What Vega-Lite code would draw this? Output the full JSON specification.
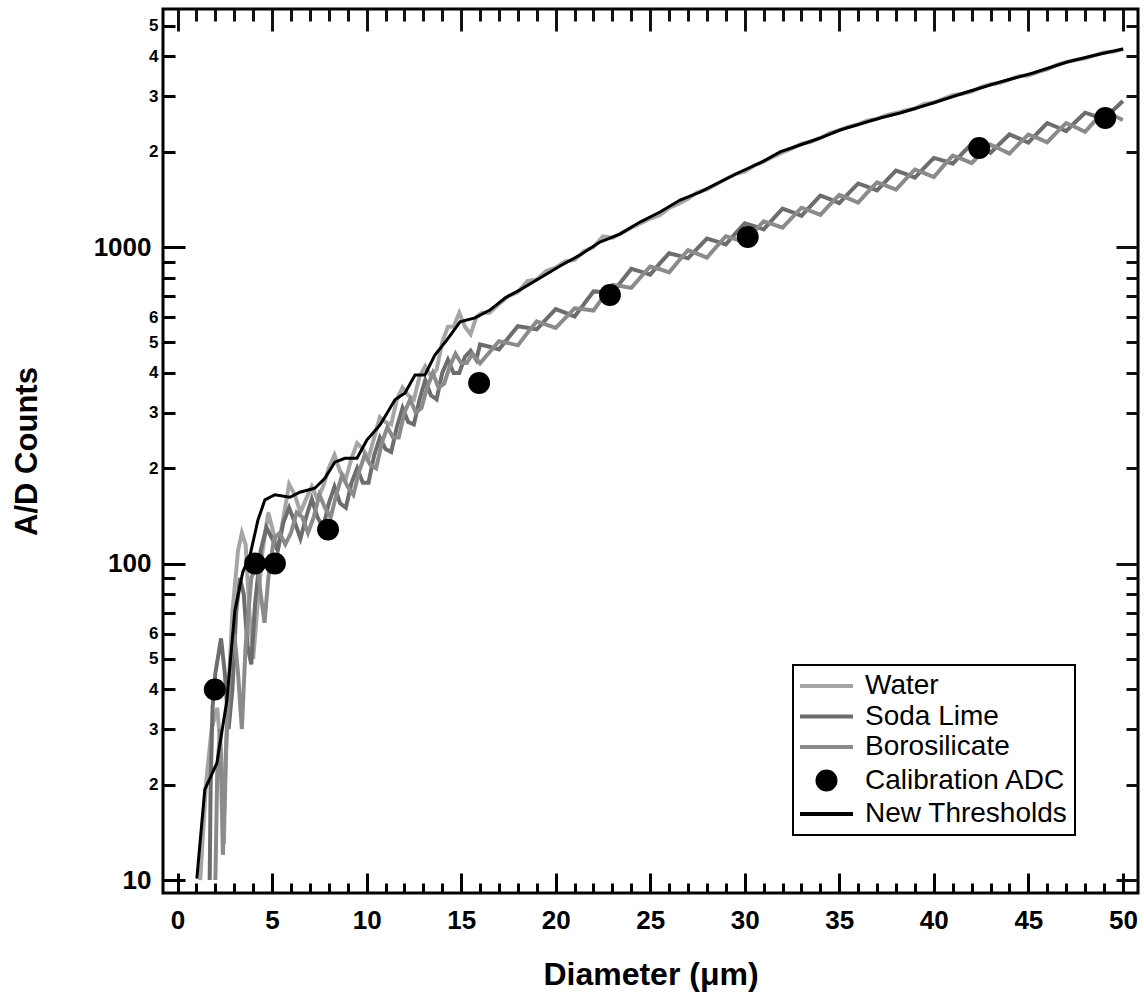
{
  "$schema": "https://vega.github.io/schema/vega-lite/v6.json",
  "width": 975,
  "height": 884,
  "autosize": "none",
  "padding": {"left": 163, "top": 9, "right": 6, "bottom": 110},
  "background": "white",
  "config": {
    "view": {"stroke": "black", "strokeWidth": 3},
    "font": "Liberation Sans"
  },
  "datasets": {
    "curves": [
      {"series": "Water", "d": 1.2, "v": 10}, {"series": "Water", "d": 1.5, "v": 20}, {"series": "Water", "d": 1.8, "v": 30}, {"series": "Water", "d": 2.1, "v": 35}, {"series": "Water", "d": 2.3, "v": 25}, {"series": "Water", "d": 2.45, "v": 13}, {"series": "Water", "d": 2.6, "v": 30}, {"series": "Water", "d": 2.9, "v": 70}, {"series": "Water", "d": 3.2, "v": 110}, {"series": "Water", "d": 3.4, "v": 125}, {"series": "Water", "d": 3.6, "v": 115}, {"series": "Water", "d": 3.8, "v": 70}, {"series": "Water", "d": 4.0, "v": 50}, {"series": "Water", "d": 4.2, "v": 70}, {"series": "Water", "d": 4.5, "v": 110}, {"series": "Water", "d": 4.8, "v": 145}, {"series": "Water", "d": 5.0, "v": 130}, {"series": "Water", "d": 5.3, "v": 110}, {"series": "Water", "d": 5.6, "v": 140}, {"series": "Water", "d": 5.9, "v": 178}, {"series": "Water", "d": 6.2, "v": 165}, {"series": "Water", "d": 6.5, "v": 145}, {"series": "Water", "d": 6.8, "v": 160}, {"series": "Water", "d": 7.1, "v": 175}, {"series": "Water", "d": 7.4, "v": 160}, {"series": "Water", "d": 7.7, "v": 175}, {"series": "Water", "d": 8.0, "v": 200}, {"series": "Water", "d": 8.3, "v": 220}, {"series": "Water", "d": 8.6, "v": 195}, {"series": "Water", "d": 8.9, "v": 185}, {"series": "Water", "d": 9.2, "v": 215}, {"series": "Water", "d": 9.5, "v": 240}, {"series": "Water", "d": 9.8, "v": 230}, {"series": "Water", "d": 10.1, "v": 215}, {"series": "Water", "d": 10.4, "v": 250}, {"series": "Water", "d": 10.7, "v": 290}, {"series": "Water", "d": 11.0, "v": 280}, {"series": "Water", "d": 11.3, "v": 275}, {"series": "Water", "d": 11.6, "v": 330}, {"series": "Water", "d": 11.9, "v": 360}, {"series": "Water", "d": 12.2, "v": 340}, {"series": "Water", "d": 12.5, "v": 330}, {"series": "Water", "d": 12.8, "v": 390}, {"series": "Water", "d": 13.1, "v": 420}, {"series": "Water", "d": 13.4, "v": 390}, {"series": "Water", "d": 13.7, "v": 410}, {"series": "Water", "d": 14.0, "v": 500}, {"series": "Water", "d": 14.3, "v": 560}, {"series": "Water", "d": 14.6, "v": 560}, {"series": "Water", "d": 14.9, "v": 620}, {"series": "Water", "d": 15.2, "v": 560}, {"series": "Water", "d": 15.5, "v": 530}, {"series": "Water", "d": 15.8, "v": 600}, {"series": "Water", "d": 16.1, "v": 620}, {"series": "Water", "d": 16.5, "v": 620}, {"series": "Water", "d": 17, "v": 660}, {"series": "Water", "d": 17.5, "v": 700}, {"series": "Water", "d": 18, "v": 720}, {"series": "Water", "d": 18.5, "v": 780}, {"series": "Water", "d": 19, "v": 790}, {"series": "Water", "d": 19.5, "v": 840}, {"series": "Water", "d": 20, "v": 860}, {"series": "Water", "d": 20.5, "v": 900}, {"series": "Water", "d": 21, "v": 910}, {"series": "Water", "d": 21.5, "v": 970}, {"series": "Water", "d": 22, "v": 1000}, {"series": "Water", "d": 22.5, "v": 1080}, {"series": "Water", "d": 23, "v": 1070}, {"series": "Water", "d": 23.5, "v": 1110}, {"series": "Water", "d": 24, "v": 1150}, {"series": "Water", "d": 24.5, "v": 1190}, {"series": "Water", "d": 25, "v": 1230}, {"series": "Water", "d": 25.5, "v": 1260}, {"series": "Water", "d": 26, "v": 1330}, {"series": "Water", "d": 26.5, "v": 1370}, {"series": "Water", "d": 27, "v": 1420}, {"series": "Water", "d": 27.5, "v": 1490}, {"series": "Water", "d": 28, "v": 1520}, {"series": "Water", "d": 28.5, "v": 1580}, {"series": "Water", "d": 29, "v": 1640}, {"series": "Water", "d": 29.5, "v": 1700}, {"series": "Water", "d": 30, "v": 1730}, {"series": "Water", "d": 30.5, "v": 1810}, {"series": "Water", "d": 31, "v": 1860}, {"series": "Water", "d": 31.5, "v": 1930}, {"series": "Water", "d": 32, "v": 1990}, {"series": "Water", "d": 32.5, "v": 2050}, {"series": "Water", "d": 33, "v": 2120}, {"series": "Water", "d": 33.5, "v": 2150}, {"series": "Water", "d": 34, "v": 2210}, {"series": "Water", "d": 34.5, "v": 2290}, {"series": "Water", "d": 35, "v": 2340}, {"series": "Water", "d": 35.5, "v": 2400}, {"series": "Water", "d": 36, "v": 2440}, {"series": "Water", "d": 36.5, "v": 2510}, {"series": "Water", "d": 37, "v": 2540}, {"series": "Water", "d": 37.5, "v": 2610}, {"series": "Water", "d": 38, "v": 2650}, {"series": "Water", "d": 38.5, "v": 2700}, {"series": "Water", "d": 39, "v": 2740}, {"series": "Water", "d": 39.5, "v": 2830}, {"series": "Water", "d": 40, "v": 2860}, {"series": "Water", "d": 40.5, "v": 2940}, {"series": "Water", "d": 41, "v": 3020}, {"series": "Water", "d": 41.5, "v": 3050}, {"series": "Water", "d": 42, "v": 3100}, {"series": "Water", "d": 42.5, "v": 3200}, {"series": "Water", "d": 43, "v": 3270}, {"series": "Water", "d": 43.5, "v": 3300}, {"series": "Water", "d": 44, "v": 3380}, {"series": "Water", "d": 44.5, "v": 3470}, {"series": "Water", "d": 45, "v": 3480}, {"series": "Water", "d": 45.5, "v": 3570}, {"series": "Water", "d": 46, "v": 3640}, {"series": "Water", "d": 46.5, "v": 3760}, {"series": "Water", "d": 47, "v": 3840}, {"series": "Water", "d": 47.5, "v": 3900}, {"series": "Water", "d": 48, "v": 3950}, {"series": "Water", "d": 48.5, "v": 4030}, {"series": "Water", "d": 49, "v": 4120}, {"series": "Water", "d": 49.5, "v": 4150}, {"series": "Water", "d": 50, "v": 4220},

      {"series": "Soda Lime", "d": 1.7, "v": 10}, {"series": "Soda Lime", "d": 1.75, "v": 20}, {"series": "Soda Lime", "d": 1.85, "v": 35}, {"series": "Soda Lime", "d": 2.0, "v": 45}, {"series": "Soda Lime", "d": 2.3, "v": 58}, {"series": "Soda Lime", "d": 2.5, "v": 45}, {"series": "Soda Lime", "d": 2.7, "v": 30}, {"series": "Soda Lime", "d": 2.9, "v": 40}, {"series": "Soda Lime", "d": 3.1, "v": 70}, {"series": "Soda Lime", "d": 3.3, "v": 90}, {"series": "Soda Lime", "d": 3.5, "v": 80}, {"series": "Soda Lime", "d": 3.7, "v": 55}, {"series": "Soda Lime", "d": 3.9, "v": 48}, {"series": "Soda Lime", "d": 4.1, "v": 75}, {"series": "Soda Lime", "d": 4.4, "v": 110}, {"series": "Soda Lime", "d": 4.7, "v": 130}, {"series": "Soda Lime", "d": 5.0, "v": 120}, {"series": "Soda Lime", "d": 5.3, "v": 110}, {"series": "Soda Lime", "d": 5.6, "v": 135}, {"series": "Soda Lime", "d": 5.9, "v": 150}, {"series": "Soda Lime", "d": 6.2, "v": 135}, {"series": "Soda Lime", "d": 6.5, "v": 120}, {"series": "Soda Lime", "d": 6.8, "v": 140}, {"series": "Soda Lime", "d": 7.1, "v": 160}, {"series": "Soda Lime", "d": 7.4, "v": 140}, {"series": "Soda Lime", "d": 7.7, "v": 130}, {"series": "Soda Lime", "d": 8.0, "v": 155}, {"series": "Soda Lime", "d": 8.3, "v": 175}, {"series": "Soda Lime", "d": 8.6, "v": 155}, {"series": "Soda Lime", "d": 8.9, "v": 150}, {"series": "Soda Lime", "d": 9.2, "v": 180}, {"series": "Soda Lime", "d": 9.5, "v": 200}, {"series": "Soda Lime", "d": 9.8, "v": 180}, {"series": "Soda Lime", "d": 10.1, "v": 180}, {"series": "Soda Lime", "d": 10.4, "v": 220}, {"series": "Soda Lime", "d": 10.7, "v": 250}, {"series": "Soda Lime", "d": 11.0, "v": 230}, {"series": "Soda Lime", "d": 11.3, "v": 225}, {"series": "Soda Lime", "d": 11.6, "v": 270}, {"series": "Soda Lime", "d": 11.9, "v": 310}, {"series": "Soda Lime", "d": 12.2, "v": 280}, {"series": "Soda Lime", "d": 12.5, "v": 275}, {"series": "Soda Lime", "d": 12.8, "v": 330}, {"series": "Soda Lime", "d": 13.1, "v": 380}, {"series": "Soda Lime", "d": 13.4, "v": 340}, {"series": "Soda Lime", "d": 13.7, "v": 330}, {"series": "Soda Lime", "d": 14.0, "v": 400}, {"series": "Soda Lime", "d": 14.3, "v": 440}, {"series": "Soda Lime", "d": 14.6, "v": 400}, {"series": "Soda Lime", "d": 14.9, "v": 400}, {"series": "Soda Lime", "d": 15.2, "v": 450}, {"series": "Soda Lime", "d": 15.5, "v": 470}, {"series": "Soda Lime", "d": 15.8, "v": 440}, {"series": "Soda Lime", "d": 16, "v": 492}, {"series": "Soda Lime", "d": 16.5, "v": 484}, {"series": "Soda Lime", "d": 17, "v": 475}, {"series": "Soda Lime", "d": 17.5, "v": 517}, {"series": "Soda Lime", "d": 18, "v": 562}, {"series": "Soda Lime", "d": 18.5, "v": 556}, {"series": "Soda Lime", "d": 19, "v": 549}, {"series": "Soda Lime", "d": 19.5, "v": 592}, {"series": "Soda Lime", "d": 20, "v": 637}, {"series": "Soda Lime", "d": 20.5, "v": 620}, {"series": "Soda Lime", "d": 21, "v": 603}, {"series": "Soda Lime", "d": 21.5, "v": 661}, {"series": "Soda Lime", "d": 22, "v": 724}, {"series": "Soda Lime", "d": 22.5, "v": 721}, {"series": "Soda Lime", "d": 23, "v": 715}, {"series": "Soda Lime", "d": 23.5, "v": 783}, {"series": "Soda Lime", "d": 24, "v": 853}, {"series": "Soda Lime", "d": 24.5, "v": 836}, {"series": "Soda Lime", "d": 25, "v": 818}, {"series": "Soda Lime", "d": 25.5, "v": 886}, {"series": "Soda Lime", "d": 26, "v": 956}, {"series": "Soda Lime", "d": 26.5, "v": 939}, {"series": "Soda Lime", "d": 27, "v": 921}, {"series": "Soda Lime", "d": 27.5, "v": 991}, {"series": "Soda Lime", "d": 28, "v": 1064}, {"series": "Soda Lime", "d": 28.5, "v": 1042}, {"series": "Soda Lime", "d": 29, "v": 1019}, {"series": "Soda Lime", "d": 29.5, "v": 1102}, {"series": "Soda Lime", "d": 30, "v": 1188}, {"series": "Soda Lime", "d": 30.5, "v": 1164}, {"series": "Soda Lime", "d": 31, "v": 1137}, {"series": "Soda Lime", "d": 31.5, "v": 1228}, {"series": "Soda Lime", "d": 32, "v": 1323}, {"series": "Soda Lime", "d": 32.5, "v": 1290}, {"series": "Soda Lime", "d": 33, "v": 1254}, {"series": "Soda Lime", "d": 33.5, "v": 1351}, {"series": "Soda Lime", "d": 34, "v": 1453}, {"series": "Soda Lime", "d": 34.5, "v": 1416}, {"series": "Soda Lime", "d": 35, "v": 1377}, {"series": "Soda Lime", "d": 35.5, "v": 1480}, {"series": "Soda Lime", "d": 36, "v": 1588}, {"series": "Soda Lime", "d": 36.5, "v": 1550}, {"series": "Soda Lime", "d": 37, "v": 1509}, {"series": "Soda Lime", "d": 37.5, "v": 1624}, {"series": "Soda Lime", "d": 38, "v": 1744}, {"series": "Soda Lime", "d": 38.5, "v": 1702}, {"series": "Soda Lime", "d": 39, "v": 1656}, {"series": "Soda Lime", "d": 39.5, "v": 1782}, {"series": "Soda Lime", "d": 40, "v": 1912}, {"series": "Soda Lime", "d": 40.5, "v": 1875}, {"series": "Soda Lime", "d": 41, "v": 1833}, {"series": "Soda Lime", "d": 41.5, "v": 1972}, {"series": "Soda Lime", "d": 42, "v": 2117}, {"series": "Soda Lime", "d": 42.5, "v": 2052}, {"series": "Soda Lime", "d": 43, "v": 1985}, {"series": "Soda Lime", "d": 43.5, "v": 2124}, {"series": "Soda Lime", "d": 44, "v": 2268}, {"series": "Soda Lime", "d": 44.5, "v": 2204}, {"series": "Soda Lime", "d": 45, "v": 2136}, {"series": "Soda Lime", "d": 45.5, "v": 2297}, {"series": "Soda Lime", "d": 46, "v": 2462}, {"series": "Soda Lime", "d": 46.5, "v": 2395}, {"series": "Soda Lime", "d": 47, "v": 2323}, {"series": "Soda Lime", "d": 47.5, "v": 2487}, {"series": "Soda Lime", "d": 48, "v": 2657}, {"series": "Soda Lime", "d": 48.5, "v": 2596}, {"series": "Soda Lime", "d": 49, "v": 2528}, {"series": "Soda Lime", "d": 49.5, "v": 2709}, {"series": "Soda Lime", "d": 50, "v": 2894},

      {"series": "Borosilicate", "d": 2.0, "v": 10}, {"series": "Borosilicate", "d": 2.1, "v": 22}, {"series": "Borosilicate", "d": 2.25, "v": 30}, {"series": "Borosilicate", "d": 2.4, "v": 12}, {"series": "Borosilicate", "d": 2.55, "v": 25}, {"series": "Borosilicate", "d": 2.8, "v": 50}, {"series": "Borosilicate", "d": 3.0, "v": 60}, {"series": "Borosilicate", "d": 3.2, "v": 45}, {"series": "Borosilicate", "d": 3.4, "v": 30}, {"series": "Borosilicate", "d": 3.6, "v": 55}, {"series": "Borosilicate", "d": 3.9, "v": 90}, {"series": "Borosilicate", "d": 4.2, "v": 100}, {"series": "Borosilicate", "d": 4.4, "v": 80}, {"series": "Borosilicate", "d": 4.6, "v": 65}, {"series": "Borosilicate", "d": 4.8, "v": 90}, {"series": "Borosilicate", "d": 5.1, "v": 120}, {"series": "Borosilicate", "d": 5.4, "v": 125}, {"series": "Borosilicate", "d": 5.7, "v": 115}, {"series": "Borosilicate", "d": 6.0, "v": 125}, {"series": "Borosilicate", "d": 6.3, "v": 145}, {"series": "Borosilicate", "d": 6.6, "v": 140}, {"series": "Borosilicate", "d": 6.9, "v": 125}, {"series": "Borosilicate", "d": 7.2, "v": 140}, {"series": "Borosilicate", "d": 7.5, "v": 165}, {"series": "Borosilicate", "d": 7.8, "v": 150}, {"series": "Borosilicate", "d": 8.1, "v": 140}, {"series": "Borosilicate", "d": 8.4, "v": 165}, {"series": "Borosilicate", "d": 8.7, "v": 190}, {"series": "Borosilicate", "d": 9.0, "v": 175}, {"series": "Borosilicate", "d": 9.3, "v": 165}, {"series": "Borosilicate", "d": 9.6, "v": 195}, {"series": "Borosilicate", "d": 9.9, "v": 220}, {"series": "Borosilicate", "d": 10.2, "v": 205}, {"series": "Borosilicate", "d": 10.5, "v": 200}, {"series": "Borosilicate", "d": 10.8, "v": 240}, {"series": "Borosilicate", "d": 11.1, "v": 270}, {"series": "Borosilicate", "d": 11.4, "v": 250}, {"series": "Borosilicate", "d": 11.7, "v": 250}, {"series": "Borosilicate", "d": 12.0, "v": 300}, {"series": "Borosilicate", "d": 12.3, "v": 330}, {"series": "Borosilicate", "d": 12.6, "v": 300}, {"series": "Borosilicate", "d": 12.9, "v": 310}, {"series": "Borosilicate", "d": 13.2, "v": 360}, {"series": "Borosilicate", "d": 13.5, "v": 400}, {"series": "Borosilicate", "d": 13.8, "v": 360}, {"series": "Borosilicate", "d": 14.1, "v": 370}, {"series": "Borosilicate", "d": 14.4, "v": 420}, {"series": "Borosilicate", "d": 14.7, "v": 460}, {"series": "Borosilicate", "d": 15.0, "v": 430}, {"series": "Borosilicate", "d": 15.3, "v": 430}, {"series": "Borosilicate", "d": 15.6, "v": 460}, {"series": "Borosilicate", "d": 16, "v": 429}, {"series": "Borosilicate", "d": 16.5, "v": 465}, {"series": "Borosilicate", "d": 17, "v": 504}, {"series": "Borosilicate", "d": 17.5, "v": 497}, {"series": "Borosilicate", "d": 18, "v": 489}, {"series": "Borosilicate", "d": 18.5, "v": 535}, {"series": "Borosilicate", "d": 19, "v": 582}, {"series": "Borosilicate", "d": 19.5, "v": 569}, {"series": "Borosilicate", "d": 20, "v": 555}, {"series": "Borosilicate", "d": 20.5, "v": 596}, {"series": "Borosilicate", "d": 21, "v": 640}, {"series": "Borosilicate", "d": 21.5, "v": 636}, {"series": "Borosilicate", "d": 22, "v": 630}, {"series": "Borosilicate", "d": 22.5, "v": 693}, {"series": "Borosilicate", "d": 23, "v": 759}, {"series": "Borosilicate", "d": 23.5, "v": 752}, {"series": "Borosilicate", "d": 24, "v": 743}, {"series": "Borosilicate", "d": 24.5, "v": 804}, {"series": "Borosilicate", "d": 25, "v": 868}, {"series": "Borosilicate", "d": 25.5, "v": 851}, {"series": "Borosilicate", "d": 26, "v": 832}, {"series": "Borosilicate", "d": 26.5, "v": 903}, {"series": "Borosilicate", "d": 27, "v": 978}, {"series": "Borosilicate", "d": 27.5, "v": 952}, {"series": "Borosilicate", "d": 28, "v": 926}, {"series": "Borosilicate", "d": 28.5, "v": 1002}, {"series": "Borosilicate", "d": 29, "v": 1082}, {"series": "Borosilicate", "d": 29.5, "v": 1059}, {"series": "Borosilicate", "d": 30, "v": 1034}, {"series": "Borosilicate", "d": 30.5, "v": 1119}, {"series": "Borosilicate", "d": 31, "v": 1206}, {"series": "Borosilicate", "d": 31.5, "v": 1180}, {"series": "Borosilicate", "d": 32, "v": 1152}, {"series": "Borosilicate", "d": 32.5, "v": 1239}, {"series": "Borosilicate", "d": 33, "v": 1331}, {"series": "Borosilicate", "d": 33.5, "v": 1299}, {"series": "Borosilicate", "d": 34, "v": 1264}, {"series": "Borosilicate", "d": 34.5, "v": 1361}, {"series": "Borosilicate", "d": 35, "v": 1461}, {"series": "Borosilicate", "d": 35.5, "v": 1423}, {"series": "Borosilicate", "d": 36, "v": 1382}, {"series": "Borosilicate", "d": 36.5, "v": 1490}, {"series": "Borosilicate", "d": 37, "v": 1602}, {"series": "Borosilicate", "d": 37.5, "v": 1561}, {"series": "Borosilicate", "d": 38, "v": 1518}, {"series": "Borosilicate", "d": 38.5, "v": 1635}, {"series": "Borosilicate", "d": 39, "v": 1758}, {"series": "Borosilicate", "d": 39.5, "v": 1713}, {"series": "Borosilicate", "d": 40, "v": 1664}, {"series": "Borosilicate", "d": 40.5, "v": 1802}, {"series": "Borosilicate", "d": 41, "v": 1945}, {"series": "Borosilicate", "d": 41.5, "v": 1896}, {"series": "Borosilicate", "d": 42, "v": 1842}, {"series": "Borosilicate", "d": 42.5, "v": 1972}, {"series": "Borosilicate", "d": 43, "v": 2106}, {"series": "Borosilicate", "d": 43.5, "v": 2041}, {"series": "Borosilicate", "d": 44, "v": 1974}, {"series": "Borosilicate", "d": 44.5, "v": 2119}, {"series": "Borosilicate", "d": 45, "v": 2267}, {"series": "Borosilicate", "d": 45.5, "v": 2208}, {"series": "Borosilicate", "d": 46, "v": 2143}, {"series": "Borosilicate", "d": 46.5, "v": 2302}, {"series": "Borosilicate", "d": 47, "v": 2465}, {"series": "Borosilicate", "d": 47.5, "v": 2391}, {"series": "Borosilicate", "d": 48, "v": 2312}, {"series": "Borosilicate", "d": 48.5, "v": 2495}, {"series": "Borosilicate", "d": 49, "v": 2683}, {"series": "Borosilicate", "d": 49.5, "v": 2604}, {"series": "Borosilicate", "d": 50, "v": 2519},

      {"series": "New Thresholds", "d": 1.02, "v": 10.1}, {"series": "New Thresholds", "d": 1.44, "v": 19.3}, {"series": "New Thresholds", "d": 2.08, "v": 23.4}, {"series": "New Thresholds", "d": 2.61, "v": 37}, {"series": "New Thresholds", "d": 3.03, "v": 71}, {"series": "New Thresholds", "d": 3.45, "v": 94}, {"series": "New Thresholds", "d": 3.83, "v": 106}, {"series": "New Thresholds", "d": 4.25, "v": 137}, {"series": "New Thresholds", "d": 4.62, "v": 159}, {"series": "New Thresholds", "d": 5.15, "v": 165}, {"series": "New Thresholds", "d": 5.94, "v": 162}, {"series": "New Thresholds", "d": 6.47, "v": 168}, {"series": "New Thresholds", "d": 7.26, "v": 173}, {"series": "New Thresholds", "d": 7.79, "v": 186}, {"series": "New Thresholds", "d": 8.32, "v": 209}, {"series": "New Thresholds", "d": 8.85, "v": 215}, {"series": "New Thresholds", "d": 9.49, "v": 215}, {"series": "New Thresholds", "d": 10.02, "v": 246}, {"series": "New Thresholds", "d": 10.71, "v": 274}, {"series": "New Thresholds", "d": 11.5, "v": 329}, {"series": "New Thresholds", "d": 12.03, "v": 346}, {"series": "New Thresholds", "d": 12.56, "v": 394}, {"series": "New Thresholds", "d": 13.08, "v": 394}, {"series": "New Thresholds", "d": 13.61, "v": 456}, {"series": "New Thresholds", "d": 14.25, "v": 509}, {"series": "New Thresholds", "d": 14.94, "v": 580}, {"series": "New Thresholds", "d": 15.73, "v": 597}, {"series": "New Thresholds", "d": 16.52, "v": 632}, {"series": "New Thresholds", "d": 17.32, "v": 690}, {"series": "New Thresholds", "d": 18.11, "v": 732}, {"series": "New Thresholds", "d": 19.17, "v": 798}, {"series": "New Thresholds", "d": 20.23, "v": 871}, {"series": "New Thresholds", "d": 21.29, "v": 944}, {"series": "New Thresholds", "d": 22.34, "v": 1037}, {"series": "New Thresholds", "d": 23.4, "v": 1099}, {"series": "New Thresholds", "d": 24.46, "v": 1199}, {"series": "New Thresholds", "d": 25.52, "v": 1290}, {"series": "New Thresholds", "d": 26.58, "v": 1408}, {"series": "New Thresholds", "d": 27.63, "v": 1492}, {"series": "New Thresholds", "d": 28.69, "v": 1605}, {"series": "New Thresholds", "d": 29.75, "v": 1726}, {"series": "New Thresholds", "d": 30.81, "v": 1843}, {"series": "New Thresholds", "d": 31.87, "v": 1997}, {"series": "New Thresholds", "d": 32.93, "v": 2101}, {"series": "New Thresholds", "d": 33.98, "v": 2210}, {"series": "New Thresholds", "d": 35.04, "v": 2343}, {"series": "New Thresholds", "d": 36.1, "v": 2447}, {"series": "New Thresholds", "d": 37.16, "v": 2556}, {"series": "New Thresholds", "d": 38.22, "v": 2651}, {"series": "New Thresholds", "d": 39.96, "v": 2851}, {"series": "New Thresholds", "d": 41.76, "v": 3089}, {"series": "New Thresholds", "d": 43.51, "v": 3322}, {"series": "New Thresholds", "d": 45.25, "v": 3546}, {"series": "New Thresholds", "d": 47.05, "v": 3842}, {"series": "New Thresholds", "d": 48.8, "v": 4072}, {"series": "New Thresholds", "d": 50.02, "v": 4223}
    ],
    "cal": [
      {"series": "Calibration ADC", "d": 1.97, "v": 40},
      {"series": "Calibration ADC", "d": 4.1, "v": 100},
      {"series": "Calibration ADC", "d": 5.15, "v": 100},
      {"series": "Calibration ADC", "d": 7.96, "v": 128},
      {"series": "Calibration ADC", "d": 15.95, "v": 372},
      {"series": "Calibration ADC", "d": 22.87, "v": 705},
      {"series": "Calibration ADC", "d": 30.16, "v": 1076},
      {"series": "Calibration ADC", "d": 42.4, "v": 2055},
      {"series": "Calibration ADC", "d": 49.07, "v": 2557}
    ]
  },
  "resolve": {"axis": {"x": "independent", "y": "independent"}},
  "layer": [
    {
      "data": {"name": "curves"},
      "transform": [{"filter": "datum.series !== 'New Thresholds'"}],
      "mark": {"type": "line", "strokeWidth": 4, "clip": true},
      "encoding": {
        "x": {
          "field": "d", "type": "quantitative",
          "scale": {"domain": [-0.77, 50.8], "nice": false, "zero": false},
          "axis": {
            "orient": "bottom",
            "values": [0,1,2,3,4,5,6,7,8,9,10,11,12,13,14,15,16,17,18,19,20,21,22,23,24,25,26,27,28,29,30,31,32,33,34,35,36,37,38,39,40,41,42,43,44,45,46,47,48,49,50],
            "tickSize": {"condition": {"test": "datum.value % 5 === 0", "value": -20}, "value": -10},
            "tickWidth": 3, "tickColor": "black",
            "labelExpr": "datum.value % 5 === 0 ? datum.label : ''",
            "labelFont": "Liberation Sans", "labelFontWeight": "bold", "labelFontSize": 26, "labelColor": "black",
            "labelPadding": 34, "labelFlush": false, "labelOverlap": false, "labelBound": false,
            "domain": false, "grid": false,
            "title": "Diameter (μm)", "titleFont": "Liberation Sans", "titleFontSize": 32, "titleFontWeight": "bold", "titleColor": "black", "titlePadding": 16
          }
        },
        "y": {
          "field": "v", "type": "quantitative",
          "scale": {"type": "log", "domain": [9.1, 5650], "nice": false},
          "axis": {
            "orient": "left",
            "values": [10,20,30,40,50,60,70,80,90,100,200,300,400,500,600,700,800,900,1000,2000,3000,4000,5000],
            "tickSize": {"condition": {"test": "indexof([10,100,1000], datum.value) >= 0", "value": -22}, "value": -12},
            "labelPadding": {"condition": {"test": "indexof([10,100,1000], datum.value) >= 0", "value": 34}, "value": 17},
            "labelFontSize": {"condition": {"test": "indexof([10,100,1000], datum.value) >= 0", "value": 26}, "value": 17},
            "tickWidth": 3, "tickColor": "black",
            "labelExpr": "indexof([10,100,1000], datum.value) >= 0 ? format(datum.value, 'd') : (indexof([20,30,40,50,60,200,300,400,500,600,2000,3000,4000,5000], datum.value) >= 0 ? substring(format(datum.value, 'd'), 0, 1) : '')",
            "labelFont": "Liberation Sans", "labelFontWeight": "bold", "labelColor": "black",
            "labelFlush": false, "labelOverlap": false, "labelBound": false, "labelBaseline": "middle",
            "domain": false, "grid": false,
            "title": "A/D Counts", "titleFont": "Liberation Sans", "titleFontSize": 31, "titleFontWeight": "bold", "titleColor": "black", "titlePadding": 50
          }
        },
        "color": {
          "field": "series", "type": "nominal",
          "scale": {
            "domain": ["Water", "Soda Lime", "Borosilicate", "Calibration ADC", "New Thresholds"],
            "range": ["#a5a5a5", "#6d6d6d", "#8b8b8b", "#000000", "#000000"]
          },
          "legend": {
            "orient": "none", "legendX": 630, "legendY": 656,
            "title": null,
            "labelFont": "Liberation Sans", "labelFontSize": 28, "labelColor": "black", "labelLimit": 0,
            "labelOffset": 24.5, "symbolOffset": 12.5,
            "symbolType": "stroke", "symbolSize": 400, "symbolStrokeWidth": 4,
            "rowPadding": 2.5, "padding": 7,
            "strokeColor": "black", "fillColor": "white",
            "encode": {
              "legend": {"update": {"strokeWidth": {"value": 2}}},
              "symbols": {"update": {
                "shape": {"signal": "datum.value === 'Calibration ADC' ? 'M -0.9,0 A 0.9,0.9 0 1,0 0.9,0 A 0.9,0.9 0 1,0 -0.9,0 Z' : 'M -2.65,0 L 2.65,0'"},
                "fill": {"signal": "datum.value === 'Calibration ADC' ? 'black' : 'transparent'"},
                "stroke": {"signal": "datum.value === 'Water' ? '#a5a5a5' : datum.value === 'Soda Lime' ? '#6d6d6d' : datum.value === 'Borosilicate' ? '#8b8b8b' : datum.value === 'Calibration ADC' ? 'transparent' : 'black'"},
                "opacity": {"value": 1}
              }}
            }
          }
        }
      }
    },
    {
      "data": {"name": "curves"},
      "transform": [{"filter": "datum.series === 'New Thresholds'"}],
      "mark": {"type": "line", "strokeWidth": 3, "color": "black", "clip": true},
      "encoding": {
        "x": {
          "field": "d", "type": "quantitative",
          "axis": {
            "orient": "top",
            "values": [0,5,10,15,20,25,30,35,40,45,50],
            "tickSize": -22, "tickWidth": 3, "tickColor": "#111111",
            "labels": true, "labelColor": "white", "labelFontSize": 6, "labelPadding": 70, "domain": false, "grid": false, "title": null
          }
        },
        "y": {
          "field": "v", "type": "quantitative",
          "axis": {
            "orient": "right",
            "values": [10,100,1000],
            "tickSize": -22, "tickWidth": 3, "tickColor": "#111111",
            "labels": true, "labelColor": "white", "labelFontSize": 6, "labelPadding": 70, "domain": false, "grid": false, "title": null
          }
        }
      }
    },
    {
      "data": {"name": "cal"},
      "mark": {"type": "point", "filled": true, "size": 480, "color": "black", "opacity": 1},
      "encoding": {
        "x": {
          "field": "d", "type": "quantitative",
          "axis": {
            "orient": "top",
            "values": [1,2,3,4,6,7,8,9,11,12,13,14,16,17,18,19,21,22,23,24,26,27,28,29,31,32,33,34,36,37,38,39,41,42,43,44,46,47,48,49],
            "tickSize": -12, "tickWidth": 3, "tickColor": "#111111",
            "labels": true, "labelColor": "white", "labelFontSize": 6, "labelPadding": 60, "domain": false, "grid": false, "title": null
          }
        },
        "y": {
          "field": "v", "type": "quantitative",
          "axis": {
            "orient": "right",
            "values": [20,30,40,50,60,70,80,90,200,300,400,500,600,700,800,900,2000,3000,4000,5000],
            "tickSize": -12, "tickWidth": 3, "tickColor": "#111111",
            "labels": true, "labelColor": "white", "labelFontSize": 6, "labelPadding": 60, "domain": false, "grid": false, "title": null
          }
        }
      }
    },
    {
      "mark": {"type": "text", "align": "left", "baseline": "middle", "font": "Liberation Sans", "fontSize": 27, "color": "black"},
      "encoding": {
        "x": {"datum": 2.93, "type": "quantitative", "axis": null},
        "y": {"datum": 2260, "type": "quantitative", "axis": null},
        "text": {"value": "Optimum Collection Angles 3.6° to 13.4°"}
      }
    }
  ]
}
